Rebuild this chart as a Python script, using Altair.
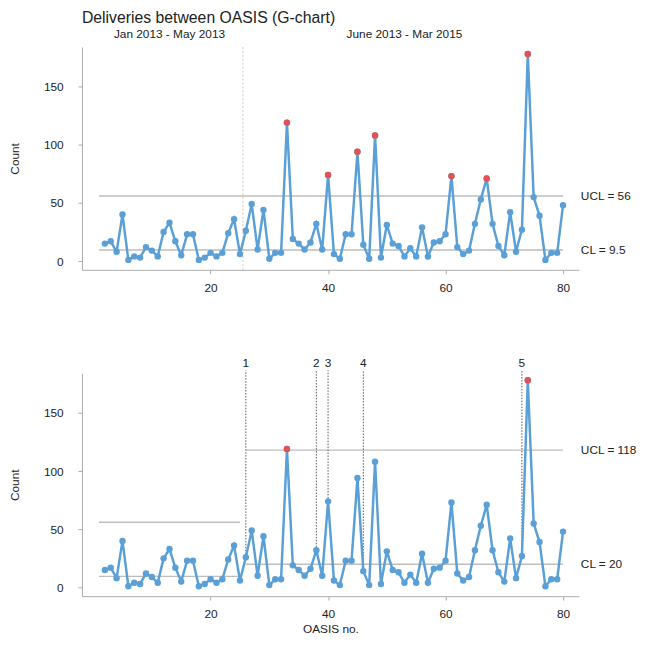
import altair as alt
import pandas as pd

# ---- data ----
oasis_no = list(range(2, 81))
counts = [15, 17, 8, 40, 1, 4, 3, 12, 9, 4, 25, 33, 17, 5, 23, 23, 1, 3, 7, 4,
          7, 24, 36, 6, 26, 49, 10, 44, 2, 7, 7, 119, 19, 15, 10, 16, 32, 10, 74, 6,
          2, 23, 23, 94, 14, 2, 108, 3, 31, 15, 13, 4, 11, 4, 29, 4, 16, 17, 23, 73,
          12, 6, 9, 32, 53, 71, 32, 13, 5, 42, 8, 27, 178, 55, 39, 1, 7, 7, 48]

chart_title = ["Deliveries between OASIS (G-chart)"]

top_limit_start = [1, 1]
top_limit_end = [80, 80]
top_limit_value = [56, 9.5]
top_limit_label = ["UCL = 56", "CL = 9.5"]

bot_limit_start = [1, 1, 26, 26]
bot_limit_end = [25, 25, 80, 80]
bot_limit_value = [56, 9.5, 118, 20]
bot_limit_label = ["", "", "UCL = 118", "CL = 20"]

period_x = [13, 53]
period_label = ["Jan 2013 - May 2013", "June 2013 - Mar 2015"]
split_x = [25.5]

note_x = [26, 38, 40, 46, 73]
note_label = ["1", "2", "3", "4", "5"]

# ---- tables ----
pts = pd.DataFrame({"oasis": oasis_no, "count": counts})
pts["bot_ucl"] = [56 if x <= 25 else 118 for x in oasis_no]
top_out = pts[pts["count"] > 56]
bot_out = pts[pts["count"] > pts["bot_ucl"]]

top_lim = pd.DataFrame({"x0": top_limit_start, "x1": top_limit_end,
                        "y": top_limit_value, "label": top_limit_label})
bot_lim = pd.DataFrame({"x0": bot_limit_start, "x1": bot_limit_end,
                        "y": bot_limit_value, "label": bot_limit_label})
periods = pd.DataFrame({"x": period_x, "label": period_label})
split = pd.DataFrame({"x": split_x})
notes = pd.DataFrame({"x": note_x, "label": note_label})
notes = notes.merge(pts, left_on="x", right_on="oasis")
title_df = pd.DataFrame({"label": chart_title})

W, H = 504, 226
XDOM = [-1.9, 82.7]
YDOM = [-7.5, 184]
FONT = "Liberation Sans"
BLUE = "#5a9fd6"
RED = "#e05254"
GRAY = "#bdbdbd"


def xenc(field, title):
    return alt.X(field, type="quantitative",
                 scale=alt.Scale(domain=XDOM, nice=False, zero=False),
                 axis=alt.Axis(values=[20, 40, 60, 80], title=title))


def yenc(field):
    return alt.Y(field, type="quantitative",
                 scale=alt.Scale(domain=YDOM, nice=False, zero=False),
                 axis=alt.Axis(values=[0, 50, 100, 150], title="Count"))


def panel(lim, out, xtitle):
    base = alt.Chart(pts)
    line = base.mark_line(color=BLUE, strokeWidth=2.5).encode(
        x=xenc("oasis", xtitle), y=yenc("count"))
    dots = base.mark_circle(color=BLUE, size=42, opacity=1).encode(
        x=xenc("oasis", xtitle), y=yenc("count"))
    reds = alt.Chart(out).mark_circle(color=RED, size=42, opacity=1).encode(
        x=xenc("oasis", xtitle), y=yenc("count"))
    rules = alt.Chart(lim).mark_rule(color=GRAY, strokeWidth=1.5).encode(
        x=xenc("x0", xtitle), x2="x1", y=yenc("y"))
    labels = alt.Chart(lim).mark_text(align="left", baseline="middle", fontSize=12,
                                       font=FONT, color="#222").encode(
        x=alt.value(W + 2), y=yenc("y"), text="label")
    return rules, line, dots, reds, labels


r, l, d, rd, lb = panel(top_lim, top_out, None)
split_rule = alt.Chart(split).mark_rule(color="#c8c8c8", strokeWidth=1,
                                        strokeDash=[2, 2]).encode(
    x=xenc("x", None), y=alt.value(0), y2=alt.value(H))
period_text = alt.Chart(periods).mark_text(fontSize=12, font=FONT, color="#222",
                                           baseline="middle").encode(
    x=xenc("x", None), y=alt.value(-13), text="label")
title_text = alt.Chart(title_df).mark_text(fontSize=16, font=FONT, color="#222",
                                           align="left", baseline="alphabetic").encode(
    x=alt.value(0), y=alt.value(-24), text="label")

top = alt.layer(r, split_rule, l, d, rd, lb, period_text, title_text).properties(
    width=W, height=H)

r2, l2, d2, rd2, lb2 = panel(bot_lim, bot_out, "OASIS no.")
note_rule = alt.Chart(notes).mark_rule(color="#555", strokeWidth=1,
                                       strokeDash=[1.5, 1.5]).encode(
    x=xenc("x", "OASIS no."), y=yenc("count"), y2=alt.value(-3))
note_text = alt.Chart(notes).mark_text(fontSize=12, font=FONT, color="#222",
                                       baseline="middle").encode(
    x=xenc("x", "OASIS no."), y=alt.value(-10), text="label")

bottom = alt.layer(r2, note_rule, l2, d2, rd2, lb2, note_text).properties(
    width=W, height=H)

chart = alt.vconcat(top, bottom, spacing=65).properties(
    padding={"left": 0, "top": -2, "right": 5, "bottom": 5}
).configure_view(stroke=None).configure_axis(
    grid=False, domainColor="#aaaaaa", tickColor="#aaaaaa", tickSize=4,
    labelFont=FONT, titleFont=FONT, labelFontSize=12, titleFontSize=12,
    labelColor="#222", titleColor="#222", titleFontWeight="normal"
).configure_axisY(titlePadding=22, labelPadding=15).configure_axisX(
    titlePadding=4, labelPadding=9)

chart.save("out.html", embed_options={"renderer": "svg", "actions": False})
